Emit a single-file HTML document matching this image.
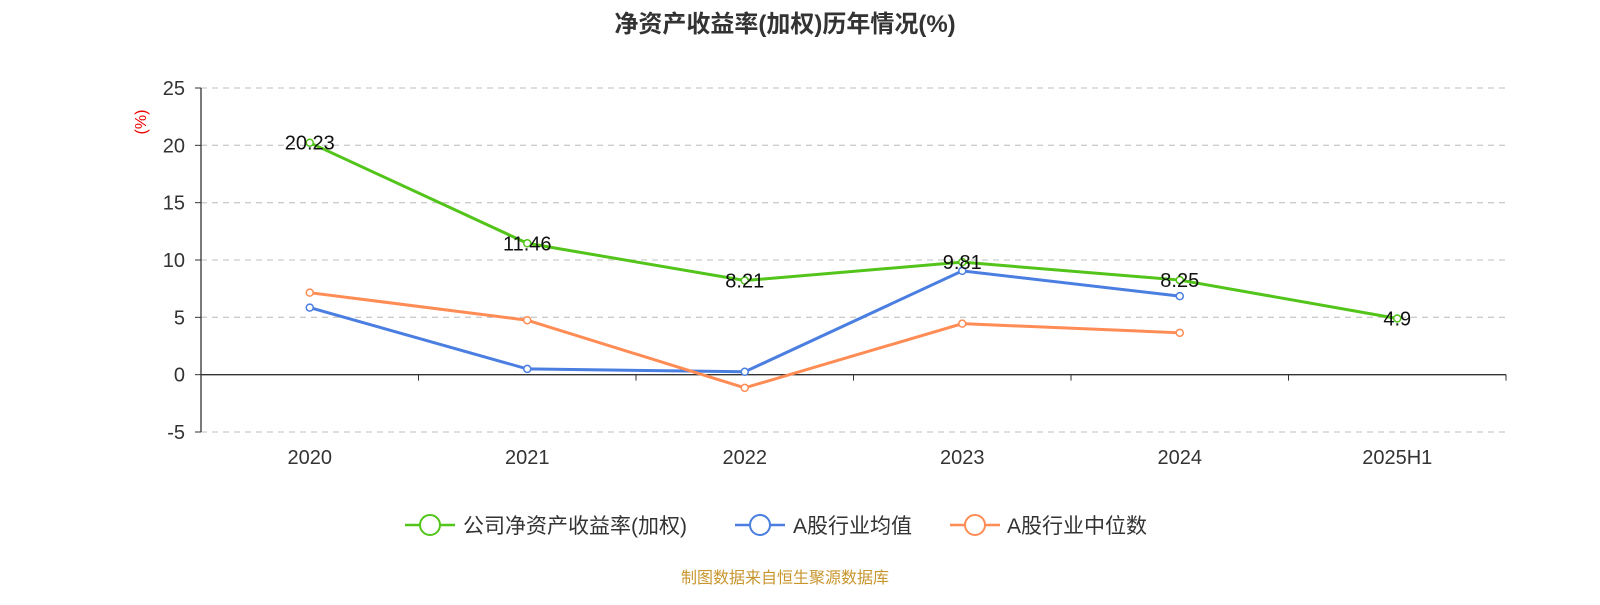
<!DOCTYPE html>
<html><head><meta charset="utf-8"><style>
body{margin:0;background:#fff;}
svg text{font-family:"Liberation Sans","Noto Sans CJK SC",sans-serif;}
</style></head><body>
<svg width="1600" height="600" xmlns="http://www.w3.org/2000/svg" id="chart">
<text x="785" y="32" text-anchor="middle" font-size="24" font-weight="bold" fill="#333">净资产收益率(加权)历年情况(%)</text>
<text transform="translate(146,122) rotate(-90)" text-anchor="middle" font-size="16" fill="#e00">(%)</text>
<g id="grid"></g><g id="axes"></g><g id="series"></g>
<g>
<g><line x1="405" y1="525" x2="455" y2="525" stroke="#52c41a" stroke-width="2.5"/><circle cx="430" cy="525" r="10" fill="#fff" stroke="#52c41a" stroke-width="2"/><text x="463" y="533" font-size="21" fill="#333">公司净资产收益率(加权)</text></g>
<g><line x1="735" y1="525" x2="785" y2="525" stroke="#4a7ee0" stroke-width="2.5"/><circle cx="760" cy="525" r="10" fill="#fff" stroke="#4a7ee0" stroke-width="2"/><text x="793" y="533" font-size="21" fill="#333">A股行业均值</text></g>
<g><line x1="950" y1="525" x2="1000" y2="525" stroke="#ff8c55" stroke-width="2.5"/><circle cx="975" cy="525" r="10" fill="#fff" stroke="#ff8c55" stroke-width="2"/><text x="1007" y="533" font-size="21" fill="#333">A股行业中位数</text></g>
</g>
<text x="785" y="583" text-anchor="middle" font-size="16" fill="#c8962e">制图数据来自恒生聚源数据库</text>
</svg>
<script>
const categories=["2020","2021","2022","2023","2024","2025H1"];
const companyValues=[20.23,11.46,8.21,9.81,8.25,4.9];
const meanValues=[5.85,0.5,0.25,9.05,6.85];
const medianValues=[7.15,4.75,-1.15,4.45,3.65];
const yTicks=[-5,0,5,10,15,20,25];
const NS="http://www.w3.org/2000/svg";
const L=201,R=1506,T=88,B=432,yMin=-5,yMax=25;
const bw=(R-L)/categories.length;
const x=i=>L+bw*(i+0.5);
const y=v=>B-(v-yMin)/(yMax-yMin)*(B-T);
function mk(p,tag,a){const e=document.createElementNS(NS,tag);for(const k in a)e.setAttribute(k,a[k]);p.appendChild(e);return e;}
const grid=document.getElementById('grid'),axes=document.getElementById('axes'),ser=document.getElementById('series');
yTicks.forEach(t=>{
 if(t!==0){const g=mk(grid,'line',{x1:L,x2:R,y1:y(t),y2:y(t),stroke:'#ccc','stroke-dasharray':'6,5','stroke-width':1.3});
 
 }
 mk(axes,'line',{x1:L-6,x2:L,y1:y(t),y2:y(t),stroke:'#333'});
 const tx=mk(axes,'text',{x:L-16,y:y(t)+7,'text-anchor':'end','font-size':20,fill:'#333'});tx.textContent=t;
 
 
});
mk(axes,'line',{x1:L,x2:L,y1:T,y2:B,stroke:'#333','stroke-width':1.3});
mk(axes,'line',{x1:L,x2:R,y1:y(0),y2:y(0),stroke:'#333','stroke-width':1.3});
categories.forEach((c,i)=>{
 const xe=L+bw*(i+1);
 mk(axes,'line',{x1:xe,x2:xe,y1:y(0),y2:y(0)+6,stroke:'#333'});
 const tx=mk(axes,'text',{x:x(i),y:464,'text-anchor':'middle','font-size':20,fill:'#333'});tx.textContent=c;
 
 
});
function series(vals,color,name,labels){
 const g=mk(ser,'g',{});
 
 
 mk(g,'polyline',{points:vals.map((v,i)=>x(i)+','+y(v)).join(' '),fill:'none',stroke:color,'stroke-width':3});
 vals.forEach((v,i)=>{
  const c=mk(g,'circle',{cx:x(i),cy:y(v),r:3.5,fill:'#fff',stroke:color,'stroke-width':1.5});
  
  
  if(labels){const t=mk(g,'text',{x:x(i),y:y(v)+7,'text-anchor':'middle','font-size':20,fill:'#111'});t.textContent=v;
  
  }
 });
}
series(meanValues,'#4a7ee0','mean-series',false);
series(medianValues,'#ff8c55','median-series',false);
series(companyValues,'#52c41a','company-series',true);
</script>
</body></html>
